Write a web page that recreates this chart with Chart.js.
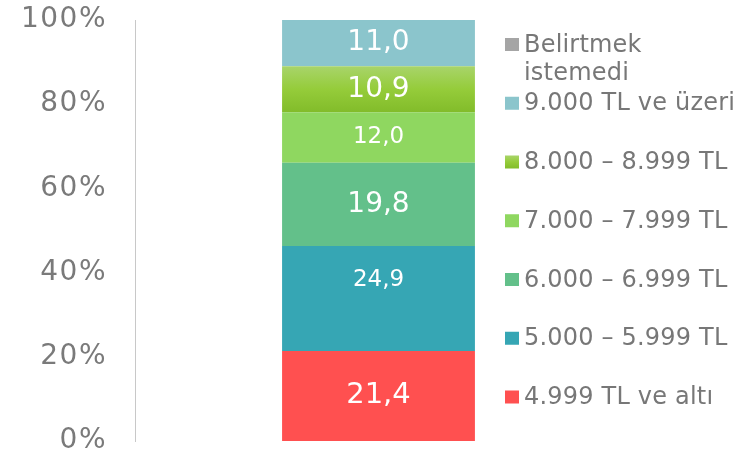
<!DOCTYPE html>
<html>
<head>
<meta charset="utf-8">
<script src="https://cdn.jsdelivr.net/npm/chart.js@4.4.0/dist/chart.umd.min.js"></script>
<style>
  html, body { margin: 0; padding: 0; background: #fff; }
  #wrap { width: 749px; height: 454px; position: relative; }
</style>
</head>
<body>
<div id="wrap"><canvas id="canvas"></canvas></div>
<script>
'use strict';

// DATA (bottom of the stack first)
var categories = [''];
var seriesNames = [
  '4.999 TL ve altı',
  '5.000 – 5.999 TL',
  '6.000 – 6.999 TL',
  '7.000 – 7.999 TL',
  '8.000 – 8.999 TL',
  '9.000 TL ve üzeri',
  'Belirtmek\nistemedi'
];
var seriesValues = [21.4, 24.9, 19.8, 12.0, 10.9, 11.0, 0];
var yTicks = [0, 20, 40, 60, 80, 100];

var colors = ['#ff5050', '#36a6b4', '#63c08a', '#8fd760', 'gradient', '#8bc5cc', '#a5a5a5'];
var labelSizes = [29, 23, 28, 23, 28, 28, 28];
var labelShift = [0, -18, 0, 0, 0, 0, 0];
var FONT = '"DejaVu Sans", Verdana, sans-serif';

function greenGradient(ctx, top, bottom) {
  var g = ctx.createLinearGradient(0, top, 0, bottom);
  g.addColorStop(0, '#a8d46a');
  g.addColorStop(0.5, '#95cc3a');
  g.addColorStop(1, '#82bc2a');
  return g;
}

function segmentColor(i) {
  return function(context) {
    if (colors[i] !== 'gradient') return colors[i];
    var chart = context.chart;
    var y = chart.scales.y;
    if (!chart.chartArea || !y) return '#95cc3a';
    var start = 0;
    for (var k = 0; k < i; k++) start += seriesValues[k];
    return greenGradient(chart.ctx, y.getPixelForValue(start + seriesValues[i]), y.getPixelForValue(start));
  };
}

var datasets = seriesNames.map(function(name, i) {
  return {
    label: name,
    data: [seriesValues[i]],
    backgroundColor: segmentColor(i),
    borderWidth: 0,
    barPercentage: 0.396,
    categoryPercentage: 1
  };
});

// wider spacing for the axis labels only
var tickSpacing = {
  id: 'tickSpacing',
  beforeDraw: function(chart) { chart.ctx.letterSpacing = '1.5px'; },
  beforeDatasetsDraw: function(chart) { chart.ctx.letterSpacing = '0px'; }
};

// value labels inside segments
var segmentLabels = {
  id: 'segmentLabels',
  afterDatasetsDraw: function(chart) {
    var ctx = chart.ctx;
    ctx.save();
    ctx.fillStyle = '#ffffff';
    ctx.textAlign = 'center';
    ctx.textBaseline = 'middle';
    chart.data.datasets.forEach(function(ds, i) {
      var v = ds.data[0];
      if (!v) return;
      var el = chart.getDatasetMeta(i).data[0];
      ctx.font = labelSizes[i] + 'px ' + FONT;
      ctx.fillText(v.toFixed(1).replace('.', ','), el.x, (el.y + el.base) / 2 + labelShift[i]);
    });
    ctx.restore();
  }
};

// legend on the right, top item = last series
var sideLegend = {
  id: 'sideLegend',
  afterDraw: function(chart) {
    var ctx = chart.ctx;
    var x = 505, top = 44.5, step = 58.75, box = 13;
    ctx.save();
    ctx.font = '24px ' + FONT;
    ctx.letterSpacing = '0.2px';
    ctx.textBaseline = 'middle';
    ctx.textAlign = 'left';
    var n = chart.data.datasets.length;
    for (var j = 0; j < n; j++) {
      var i = n - 1 - j;
      var cy = top + j * step;
      ctx.fillStyle = colors[i] === 'gradient' ? greenGradient(ctx, cy - box / 2, cy + box / 2) : colors[i];
      ctx.fillRect(x, cy - box / 2, box + 1, box);
      ctx.fillStyle = '#777777';
      var lines = seriesNames[i].split('\n');
      lines.forEach(function(t, k) {
        ctx.fillText(t, x + 19, cy + 1 + k * 28);
      });
    }
    ctx.restore();
  }
};

var ctx = document.getElementById('canvas').getContext('2d');
window.myBar = new Chart(ctx, {
  type: 'bar',
  data: {
    labels: categories,
    datasets: datasets
  },
  options: {
    responsive: true,
    maintainAspectRatio: false,
    animation: false,
    layout: {
      padding: { left: 0, right: 127, top: 20, bottom: 13 }
    },
    plugins: {
      legend: { display: false },
      tooltip: { enabled: false },
      title: { display: false }
    },
    scales: {
      x: {
        stacked: true,
        display: false
      },
      y: {
        stacked: true,
        min: 0,
        max: 100,
        afterFit: function(scale) {
          scale.width = 135;
          scale.paddingTop = 0;
          scale.paddingBottom = 0;
        },
        afterBuildTicks: function(scale) {
          scale.ticks = yTicks.map(function(v) { return { value: v }; });
        },
        grid: { display: false, drawTicks: false },
        border: { display: true, color: '#c8c8c8', width: 1 },
        ticks: {
          padding: 28,
          color: '#7a7a7a',
          font: { family: FONT, size: 28 },
          callback: function(v) { return v + '%'; }
        }
      }
    }
  },
  plugins: [tickSpacing, segmentLabels, sideLegend]
});
</script>
</body>
</html>
